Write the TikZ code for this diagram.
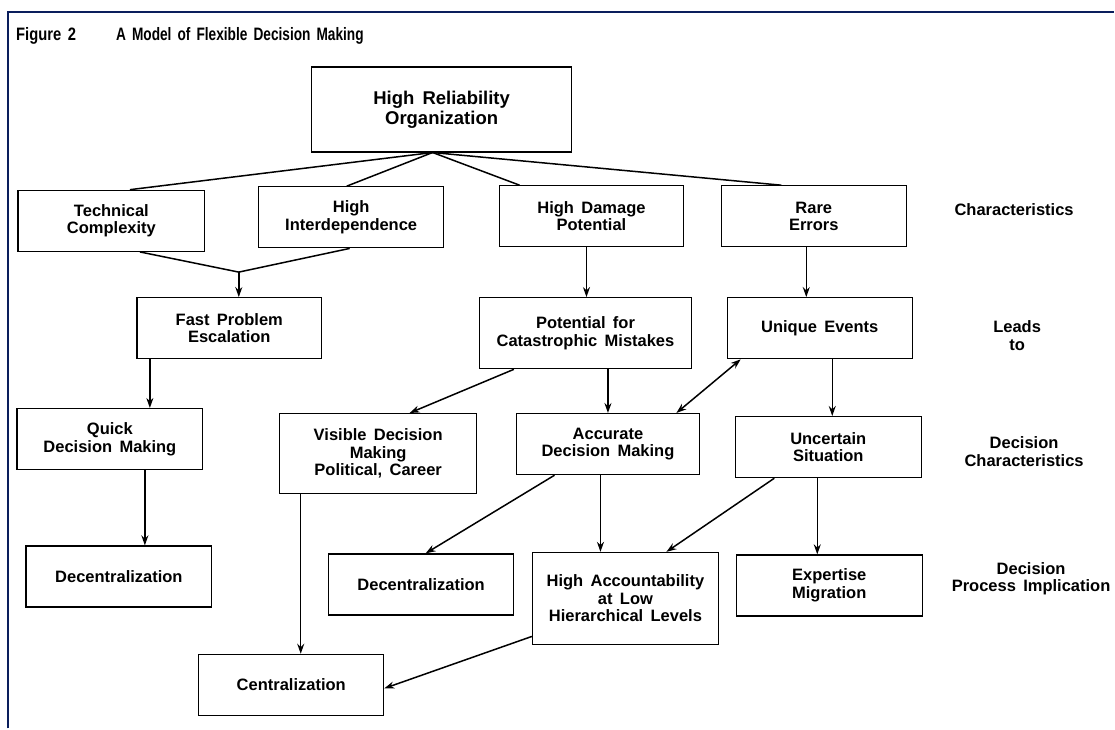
\documentclass[tikz,border=0pt]{standalone}
\usepackage{fontspec}
\setmainfont{Liberation Sans}[WordSpace=1.6]
\usepackage{graphicx}
\usetikzlibrary{arrows.meta, calc}
\definecolor{framenavy}{RGB}{10, 30, 92}
\newcommand{\boxfont}{\fontsize{16.5}{17.5}\selectfont\bfseries}
\newcommand{\bigboxfont}{\fontsize{18.5}{20}\selectfont\bfseries}
\newcommand{\titlefont}{\fontsize{18}{20}\selectfont\bfseries}

\begin{document}
\begin{tikzpicture}[x=1pt, y=-1pt,
    orgbox/.style={draw, line width=1.3pt, minimum width=185pt, minimum height=61pt,
        inner sep=3pt, align=center, font=\boxfont},
    rowlabel/.style={align=center, font=\boxfont},
    conn/.style={line width=1.5pt},
    arr/.style={conn, -{Stealth[length=10pt, width=7pt]}},
    darr/.style={conn, {Stealth[length=10pt, width=7pt]}-{Stealth[length=10pt, width=7pt]}}]

    % page and frame
    \fill[white] (0,0) rectangle (1115,729);
    \draw[framenavy, line width=2pt] (8,729) -- (8,12) -- (1115,12);

    % title
    \node[anchor=west, inner sep=0pt, font=\titlefont] (figno) at (16,36) {\scalebox{0.82}[1]{Figure 2}};
    \node[anchor=west, inner sep=0pt, font=\titlefont] (figtitle) at (116,36) {\scalebox{0.76}[1]{A Model of Flexible Decision Making}};

    % boxes
    \node[orgbox, minimum width=260pt, minimum height=85pt, font=\bigboxfont] (hro) at (442,109.5) {High Reliability\\Organization};
    \node[orgbox, minimum width=187pt] (techcx) at (111.5,221) {Technical\\Complexity};
    \node[orgbox] (interdep) at (351.5,217.5) {High\\Interdependence};
    \node[orgbox, minimum width=184pt] (damage) at (592,216.5) {High Damage\\Potential};
    \node[orgbox] (rareerr) at (814.5,216.5) {Rare\\Errors};
    \node[orgbox] (fastesc) at (229.5,328.5) {Fast Problem\\Escalation};
    \node[orgbox, minimum width=212pt, minimum height=71pt] (catastr) at (586,333.5) {Potential for\\Catastrophic Mistakes};
    \node[orgbox] (unique) at (820.5,328.5) {Unique Events};
    \node[orgbox, minimum width=186pt] (quickdm) at (110,439.5) {Quick\\Decision Making};
    \node[orgbox, minimum width=197pt, minimum height=80pt] (visibledm) at (378.5,454) {Visible Decision\\Making\\Political, Career};
    \node[orgbox, minimum width=183pt] (accuratedm) at (608.5,444.5) {Accurate\\Decision Making};
    \node[orgbox, minimum width=186pt] (uncertain) at (829,447.5) {Uncertain\\Situation};
    \node[orgbox, minimum width=186pt] (decentrA) at (119,577) {Decentralization};
    \node[orgbox] (decentrB) at (421.5,585) {Decentralization};
    \node[orgbox, minimum width=186pt, minimum height=92pt] (accountab) at (626,599) {High Accountability\\at Low\\Hierarchical Levels};
    \node[orgbox, minimum width=186pt] (expertise) at (830,586) {Expertise\\Migration};
    \node[orgbox] (centr) at (291.5,685.5) {Centralization};

    % row labels
    \node[rowlabel] (lblchar) at (1015,210) {Characteristics};
    \node[rowlabel] (lblleads) at (1018,336) {Leads\\to};
    \node[rowlabel] (lbldecchar) at (1025,452) {Decision\\Characteristics};
    \node[rowlabel] (lblproc) at (1032,579) {Decision\\Process Implication};

    % organization to its characteristics
    \coordinate (hrofoot) at ([xshift=-9pt]hro.south);
    \draw[conn] (hrofoot) -- ([xshift=18.5pt]techcx.north);
    \draw[conn] (hrofoot) -- ([xshift=-4.5pt]interdep.north);
    \draw[conn] (hrofoot) -- ([xshift=-72pt]damage.north);
    \draw[conn] (hrofoot) -- ([xshift=-32.5pt]rareerr.north);

    % characteristics lead to
    \coordinate (merge) at ($(fastesc.north)+(9.5,-25)$);
    \draw[conn] ([xshift=28.5pt]techcx.south) -- (merge);
    \draw[conn] ([xshift=-1.5pt]interdep.south) -- (merge);
    \draw[arr] (merge) -- (merge |- fastesc.north);
    \draw[arr] ([xshift=-5pt]damage.south) -- ([xshift=-5pt]damage.south |- catastr.north);
    \draw[arr] ([xshift=-7.5pt]rareerr.south) -- ([xshift=-7.5pt]rareerr.south |- unique.north);

    % decision characteristics
    \draw[arr] ([xshift=-79.5pt]fastesc.south) -- ([xshift=-79.5pt]fastesc.south |- quickdm.north);
    \draw[arr] ([xshift=35pt]catastr.south west) -- ([xshift=31.5pt]visibledm.north);
    \draw[arr] (accuratedm.north |- catastr.south) -- (accuratedm.north);
    \draw[darr] ([xshift=68.5pt]accuratedm.north) -- ([xshift=14pt]unique.south west);
    \draw[arr] ([xshift=12.5pt]unique.south) -- ([xshift=12.5pt]unique.south |- uncertain.north);

    % process implications
    \draw[arr] ([xshift=35pt]quickdm.south) -- ([xshift=35pt]quickdm.south |- decentrA.north);
    \draw[arr] ([xshift=-77.5pt]visibledm.south) -- ([xshift=-77.5pt]visibledm.south |- centr.north);
    \draw[arr] ([xshift=-53.5pt]accuratedm.south) -- ([xshift=4.5pt]decentrB.north);
    \draw[arr] ([xshift=-7.5pt]accuratedm.south) -- ([xshift=-7.5pt]accuratedm.south |- accountab.north);
    \draw[arr] ([xshift=-54pt]uncertain.south) -- ([xshift=41pt]accountab.north);
    \draw[arr] ([xshift=-11pt]uncertain.south) -- ([xshift=-11pt]uncertain.south |- expertise.north);
    \draw[arr] ([yshift=-38pt]accountab.west) -- ([yshift=-3.5pt]centr.east);
\end{tikzpicture}
\end{document}
